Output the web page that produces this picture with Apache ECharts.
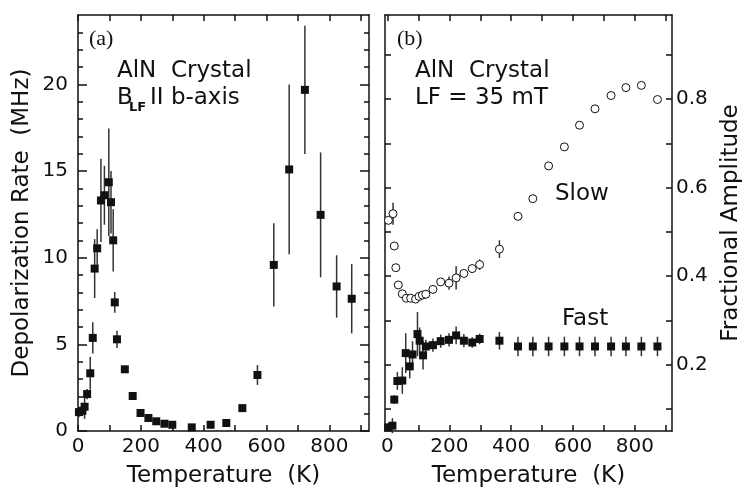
<!DOCTYPE html>
<html>
<head>
<meta charset="utf-8">
<script src="https://cdn.jsdelivr.net/npm/echarts@6/dist/echarts.min.js"></script>
<style>
  html, body { margin: 0; padding: 0; background: #fff; }
  #chart { width: 744px; height: 493px; }
</style>
</head>
<body>
<div id="chart"></div>
<script>
// (a) depolarization rate of the AlN crystal, B_LF parallel to the b-axis
const tempA    = [3, 14, 21, 29, 39, 47, 53, 61, 73, 84, 98, 105, 112, 117, 124, 149, 174, 199, 224, 249, 275, 300, 362, 422, 472, 523, 571, 623, 672, 722, 772, 823, 871];
const rateA    = [1.09, 1.17, 1.40, 2.13, 3.33, 5.37, 9.37, 10.54, 13.3, 13.6, 14.35, 13.2, 11.0, 7.42, 5.29, 3.56, 2.02, 1.04, 0.75, 0.56, 0.42, 0.36, 0.21, 0.36, 0.46, 1.32, 3.23, 9.58, 15.09, 19.68, 12.47, 8.34, 7.63];
const rateErrA = [0.3, 0.3, 0.7, 0.3, 0.95, 0.9, 1.7, 1.1, 2.4, 1.7, 3.1, 1.8, 1.8, 0.6, 0.5, 0.2, 0.1, 0.1, 0.08, 0.08, 0.06, 0.06, 0.06, 0.08, 0.1, 0.15, 0.57, 2.4, 4.9, 3.7, 3.6, 1.8, 2.0];

// (b) fractional amplitudes at LF = 35 mT
const tempSlow = [3, 18, 22, 27, 35, 48, 61, 75, 91, 102, 113, 124, 147, 172, 199, 222, 247, 274, 298, 362, 422, 470, 521, 572, 621, 671, 723, 771, 821, 873];
const ampSlow  = [0.526, 0.541, 0.468, 0.419, 0.380, 0.360, 0.350, 0.350, 0.348, 0.354, 0.357, 0.359, 0.370, 0.387, 0.384, 0.396, 0.406, 0.417, 0.426, 0.461, 0.535, 0.575, 0.649, 0.692, 0.741, 0.778, 0.808, 0.826, 0.831, 0.799];
const errSlow  = [0.008, 0.025, 0.008, 0.008, 0.008, 0.006, 0.006, 0.006, 0.006, 0.006, 0.006, 0.006, 0.01, 0.008, 0.015, 0.026, 0.008, 0.01, 0.012, 0.02, 0.008, 0.008, 0.008, 0.008, 0.008, 0.008, 0.008, 0.008, 0.008, 0.008];

const tempFast = [2, 16, 22, 32, 48, 59, 72, 81, 97, 104, 115, 124, 147, 172, 199, 222, 247, 274, 298, 362, 422, 470, 521, 572, 621, 671, 723, 771, 821, 873];
const ampFast  = [0.058, 0.062, 0.121, 0.163, 0.164, 0.226, 0.196, 0.223, 0.269, 0.254, 0.221, 0.241, 0.244, 0.253, 0.256, 0.266, 0.254, 0.250, 0.258, 0.254, 0.241, 0.241, 0.241, 0.241, 0.241, 0.241, 0.241, 0.241, 0.241, 0.241];
const errFast  = [0.01, 0.017, 0.01, 0.02, 0.03, 0.045, 0.027, 0.03, 0.05, 0.03, 0.032, 0.015, 0.015, 0.015, 0.015, 0.02, 0.015, 0.012, 0.012, 0.02, 0.022, 0.022, 0.022, 0.022, 0.022, 0.022, 0.022, 0.022, 0.022, 0.022];

// tick positions and labels
const xTicks        = [0, 100, 200, 300, 400, 500, 600, 700, 800, 900];
const xLabels       = [0, 200, 400, 600, 800];
const rateMajor     = [0, 5, 10, 15, 20];
const rateMinor     = [1, 2, 3, 4, 6, 7, 8, 9, 11, 12, 13, 14, 16, 17, 18, 19, 21, 22, 23];
const ampTicks      = [0.1, 0.2, 0.3, 0.4, 0.5, 0.6, 0.7, 0.8, 0.9];
const ampLabels     = [0.2, 0.4, 0.6, 0.8];

const FONT = 'DejaVu Sans';
const INK = '#111';

const pairs = (xs, ys) => xs.map((x, i) => [x, ys[i]]);
const bars = (xs, ys, es) => xs.map((x, i) => [x, ys[i] - es[i], ys[i] + es[i]]);

function renderErrorBar(params, api) {
  const a = api.coord([api.value(0), api.value(1)]);
  const b = api.coord([api.value(0), api.value(2)]);
  return {
    type: 'line',
    shape: { x1: a[0], y1: a[1], x2: b[0], y2: b[1] },
    style: { stroke: '#333', lineWidth: 1.5 }
  };
}

function xAxis(gridIndex, min, max, position, withLabels) {
  return {
    type: 'value', gridIndex, min, max, position,
    axisLine: { show: true, onZero: false, lineStyle: { color: INK, width: 1.5 } },
    axisTick: { show: true, inside: true, length: 6, customValues: xTicks, lineStyle: { color: INK, width: 1.5 } },
    axisLabel: withLabels
      ? { show: true, customValues: xLabels, margin: 6, fontFamily: FONT, fontSize: 20, color: INK }
      : { show: false },
    splitLine: { show: false },
    name: withLabels ? 'Temperature  (K)' : '',
    nameLocation: 'middle', nameGap: 34,
    nameTextStyle: { fontFamily: FONT, fontSize: 23, color: INK }
  };
}

function yAxis(gridIndex, min, max, position, ticks, tickLen, opts) {
  opts = opts || {};
  return {
    type: 'value', gridIndex, min, max, position,
    axisLine: { show: opts.line !== false, onZero: false, lineStyle: { color: INK, width: 1.5 } },
    axisTick: { show: true, inside: true, length: tickLen, customValues: ticks, lineStyle: { color: INK, width: 1.5 } },
    axisLabel: opts.labels
      ? { show: true, customValues: opts.labels, margin: opts.margin, fontFamily: FONT, fontSize: 20, color: INK }
      : { show: false },
    splitLine: { show: false },
    name: opts.name || '',
    nameLocation: 'middle', nameGap: opts.nameGap || 40, nameRotate: opts.nameRotate,
    nameTextStyle: { fontFamily: FONT, fontSize: 23, color: INK }
  };
}

const textStyle = (size, family) => ({ fontFamily: family || FONT, fontSize: size, fill: INK, textVerticalAlign: 'middle' });

const option = {
  backgroundColor: '#fff',
  animation: false,
  grid: [
    { left: 78, top: 15, width: 291, height: 418 },
    { left: 385, top: 15, width: 289, height: 418 }
  ],
  xAxis: [
    xAxis(0, 0, 926, 'bottom', true),
    xAxis(0, 0, 926, 'top', false),
    xAxis(1, -8, 920, 'bottom', true),
    xAxis(1, -8, 920, 'top', false)
  ],
  yAxis: [
    yAxis(0, 0, 24, 'left', rateMajor, 9, { labels: rateMajor, margin: 10, name: 'Depolarization Rate  (MHz)', nameGap: 44 }),
    yAxis(0, 0, 24, 'left', rateMinor, 5, { line: false }),
    yAxis(0, 0, 24, 'right', rateMajor, 9, {}),
    yAxis(0, 0, 24, 'right', rateMinor, 5, { line: false }),
    yAxis(1, 0.05, 0.99, 'left', ampTicks, 6, {}),
    yAxis(1, 0.05, 0.99, 'right', ampTicks, 6, { labels: ampLabels, margin: 4, name: 'Fractional Amplitude', nameGap: 48, nameRotate: 90 })
  ],
  series: [
    { type: 'custom', xAxisIndex: 0, yAxisIndex: 0, renderItem: renderErrorBar, data: bars(tempA, rateA, rateErrA), encode: { x: 0, y: [1, 2] }, z: 1 },
    { type: 'scatter', xAxisIndex: 0, yAxisIndex: 0, data: pairs(tempA, rateA), symbol: 'rect', symbolSize: 8, itemStyle: { color: INK, opacity: 1 }, z: 2 },
    { type: 'custom', xAxisIndex: 2, yAxisIndex: 4, renderItem: renderErrorBar, data: bars(tempSlow, ampSlow, errSlow), encode: { x: 0, y: [1, 2] }, z: 1 },
    { type: 'custom', xAxisIndex: 2, yAxisIndex: 4, renderItem: renderErrorBar, data: bars(tempFast, ampFast, errFast), encode: { x: 0, y: [1, 2] }, z: 1 },
    { type: 'scatter', xAxisIndex: 2, yAxisIndex: 4, data: pairs(tempSlow, ampSlow), symbol: 'circle', symbolSize: 8, itemStyle: { color: '#fff', borderColor: INK, borderWidth: 1, opacity: 1 }, z: 2 },
    { type: 'scatter', xAxisIndex: 2, yAxisIndex: 4, data: pairs(tempFast, ampFast), symbol: 'rect', symbolSize: 8, itemStyle: { color: INK, opacity: 1 }, z: 2 }
  ],
  graphic: [
    { type: 'text', x: 89, y: 39, style: Object.assign(textStyle(22, 'Liberation Serif'), { text: '(a)' }) },
    { type: 'text', x: 117, y: 71, style: Object.assign(textStyle(23), { text: 'AlN  Crystal' }) },
    { type: 'text', x: 117, y: 98, style: Object.assign(textStyle(23), { text: 'B' }) },
    { type: 'text', x: 129, y: 108, style: Object.assign(textStyle(13), { text: 'LF', fontWeight: 'bold' }) },
    { type: 'text', x: 150, y: 98, style: Object.assign(textStyle(23), { text: 'II b-axis' }) },
    { type: 'text', x: 397, y: 39, style: Object.assign(textStyle(22, 'Liberation Serif'), { text: '(b)' }) },
    { type: 'text', x: 415, y: 71, style: Object.assign(textStyle(23), { text: 'AlN  Crystal' }) },
    { type: 'text', x: 415, y: 98, style: Object.assign(textStyle(23), { text: 'LF = 35 mT' }) },
    { type: 'text', x: 555, y: 194, style: Object.assign(textStyle(23), { text: 'Slow' }) },
    { type: 'text', x: 562, y: 319, style: Object.assign(textStyle(23), { text: 'Fast' }) }
  ]
};

const chart = echarts.init(document.getElementById('chart'), null, { renderer: 'canvas' });
chart.setOption(option);
</script>
</body>
</html>
